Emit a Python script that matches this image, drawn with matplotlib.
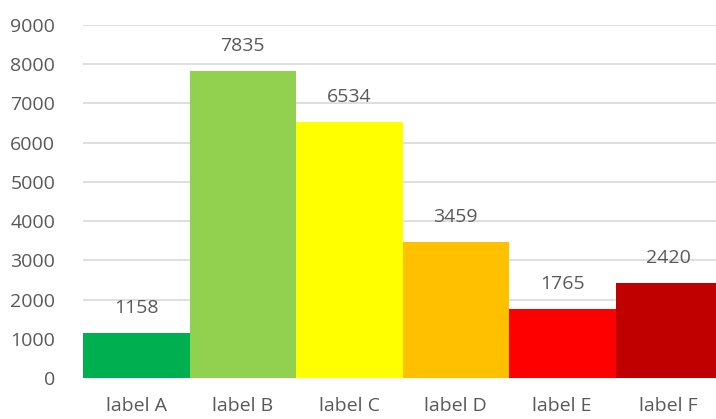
import matplotlib.pyplot as plt

categories = ["label A", "label B", "label C", "label D", "label E", "label F"]
values = [1158, 7835, 6534, 3459, 1765, 2420]
colors = ["#00B050", "#92D050", "#FFFF00", "#FFC000", "#FF0000", "#C00000"]

plt.rcParams['font.family'] = ['Open Sans', 'DejaVu Sans']
text_col = "#595959"
grid_col = "#D9D9D9"

fig = plt.figure(figsize=(7.16, 4.19), dpi=100)
# the plot area runs slightly past the right edge of the figure
ax = fig.add_axes([83 / 716, 41 / 419, 639 / 716, 353 / 419])

x = range(len(categories))
ax.bar(x, values, width=1.0, color=colors, zorder=2)

for xi, v in zip(x, values):
    ax.annotate(str(v), (xi, v), xytext=(0, 16), textcoords='offset pixels',
                ha='center', va='bottom', fontsize=14, color=text_col)

ax.set_xlim(-0.5, len(categories) - 0.5)
ax.set_ylim(0, 9000)
ax.set_yticks(range(0, 9001, 1000))
ax.set_xticks(list(x))
ax.set_xticklabels(categories)
ax.yaxis.grid(True, color=grid_col, linewidth=1.2, zorder=0)
ax.set_axisbelow(True)

for s in ax.spines.values():
    s.set_visible(False)
ax.tick_params(axis='both', length=0, labelsize=14, labelcolor=text_col)
ax.tick_params(axis='y', pad=20)
ax.tick_params(axis='x', pad=14)

fig.savefig("out.png", dpi=100)
